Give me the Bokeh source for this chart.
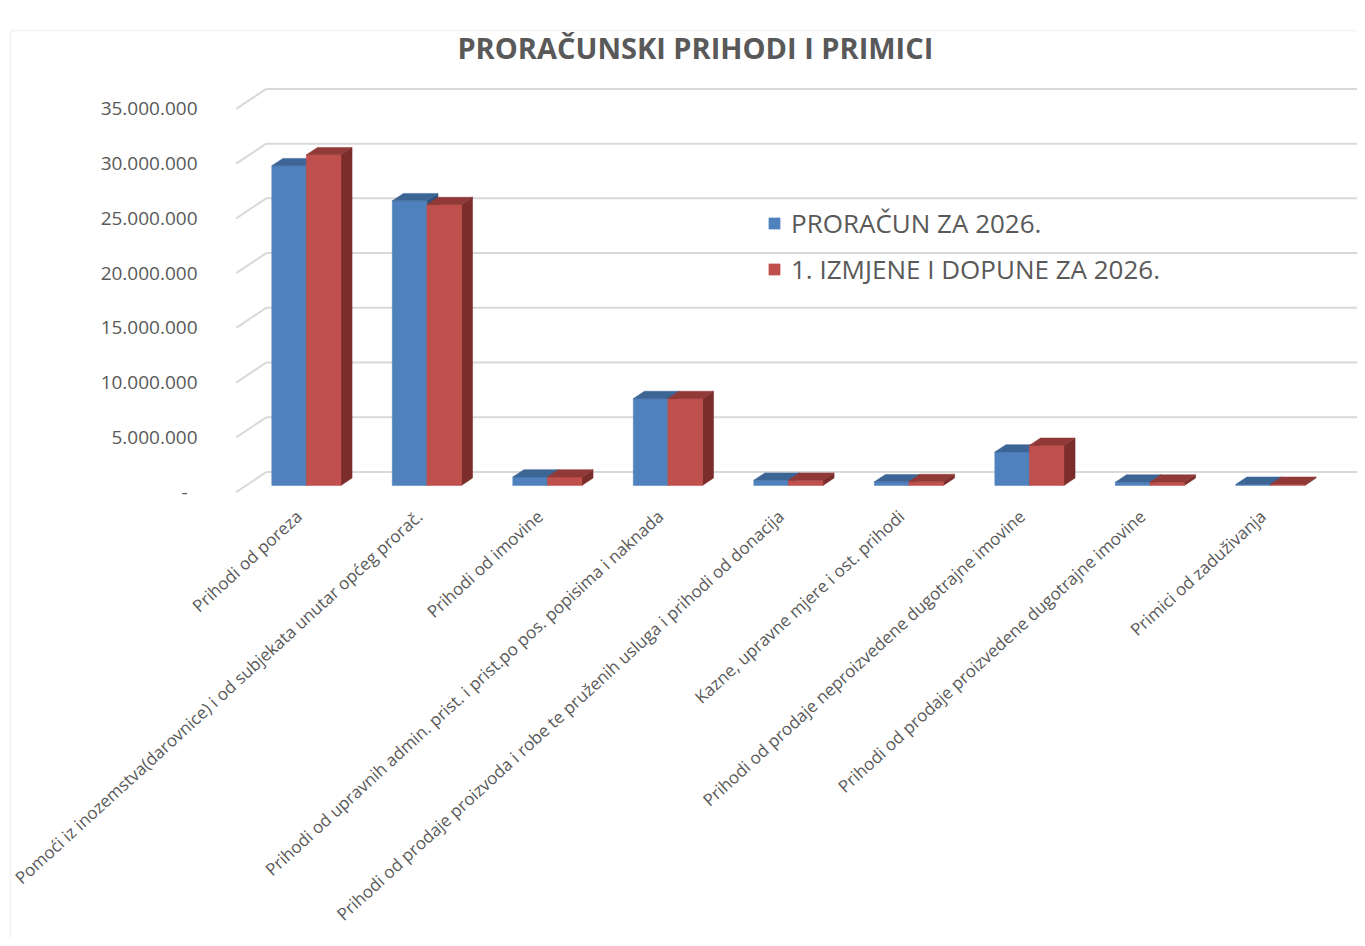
from bokeh.plotting import figure
from bokeh.models import Range1d, Legend, LegendItem, BoxAnnotation, Label
from bokeh.core.properties import value
from bokeh.embed import file_html
from bokeh.resources import INLINE

# ---------------- data ----------------
categories = [
    "Prihodi od poreza",
    "Pomoći iz inozemstva(darovnice) i od subjekata unutar općeg prorač.",
    "Prihodi od imovine",
    "Prihodi od upravnih admin. prist. i prist.po pos. popisima i naknada",
    "Prihodi od prodaje proizvoda i robe te pruženih usluga i prihodi od donacija",
    "Kazne, upravne mjere i ost. prihodi",
    "Prihodi od prodaje neproizvedene dugotrajne imovine",
    "Prihodi od prodaje proizvedene dugotrajne imovine",
    "Primici od zaduživanja",
]
proracun_2026 = [29200000, 26000000, 770000, 7930000, 470000, 330000, 3050000, 300000, 100000]
izmjene_2026 = [30200000, 25650000, 770000, 7930000, 470000, 350000, 3660000, 300000, 100000]
series_names = ["PRORAČUN ZA 2026.", "1. IZMJENE I DOPUNE ZA 2026."]
ytick_values = [0, 5000000, 10000000, 15000000, 20000000, 25000000, 30000000, 35000000]
ytick_labels = ["-\u00a0\u00a0", "5.000.000", "10.000.000", "15.000.000", "20.000.000",
                "25.000.000", "30.000.000", "35.000.000"]
title_text = "PRORAČUNSKI PRIHODI I PRIMICI"

# ---------------- styles ----------------
FONT = "Open Sans"
TXT = "#595959"
GRID = "#D9D9D9"
W, H = 1357, 938
DEPTH_X = 0.249        # 3D depth, x part (category units)
DEPTH_Y = 1826000      # 3D depth, y part (value units)
F0, F1 = 0.33, 0.70    # bar front/back position within the depth
BAR_W = 0.287
X0, X1 = -1.956, 9.305          # plot covers whole canvas
Y0, Y1 = -40780000, 44900000
YLAB_DX = -0.321                # y tick labels left of the wall
XLAB_DX, XLAB_Y = 0.02, -1950000
LAB_ANGLE = 0.74

colors = {
    0: dict(front="#4F81BD", top="#3C6596", side="#2E527E"),
    1: dict(front="#C0504D", top="#903936", side="#7A2D2B"),
}

p = figure(width=W, height=H, output_backend="svg", toolbar_location=None,
           x_range=Range1d(X0, X1), y_range=Range1d(Y0, Y1),
           x_axis_location=None, y_axis_location=None,
           min_border=0, min_border_left=0, min_border_right=0,
           min_border_top=0, min_border_bottom=0)
p.outline_line_color = None
p.background_fill_color = "white"
p.border_fill_color = "white"
p.xgrid.visible = False
p.ygrid.visible = False

# chart border
p.add_layout(BoxAnnotation(left=10, right=W + 50, top=30, bottom=H + 50,
                           left_units="canvas", right_units="canvas",
                           top_units="canvas", bottom_units="canvas",
                           fill_alpha=0, line_color=GRID, line_width=2))

# title
p.add_layout(Label(x=3.81, y=40600000, text=title_text, text_align="center",
                   text_baseline="middle", text_font=FONT, text_font_size="29px",
                   text_font_style="bold", text_color=TXT))

# walls: back gridlines and side-wall diagonals
back_xs, back_ys, side_xs, side_ys = [], [], [], []
for t in ytick_values:
    back_xs.append([0 + DEPTH_X, X1])
    back_ys.append([t + DEPTH_Y, t + DEPTH_Y])
    side_xs.append([0, DEPTH_X])
    side_ys.append([t, t + DEPTH_Y])
p.multi_line(back_xs, back_ys, line_color=GRID, line_width=2)
p.multi_line(side_xs, side_ys, line_color=GRID, line_width=2)

# bars (3D faces)
ox0, oy0 = F0 * DEPTH_X, F0 * DEPTH_Y
ox1, oy1 = F1 * DEPTH_X, F1 * DEPTH_Y
front_renderers = []
for s, vals in enumerate([proracun_2026, izmjene_2026]):
    fx, fy, tx, ty, sx, sy = [], [], [], [], [], []
    for i, v in enumerate(vals):
        xl = i + 0.5 - BAR_W + s * BAR_W
        xr = xl + BAR_W
        fx.append([xl + ox0, xr + ox0, xr + ox0, xl + ox0])
        fy.append([oy0, oy0, v + oy0, v + oy0])
        tx.append([xl + ox0, xr + ox0, xr + ox1, xl + ox1])
        ty.append([v + oy0, v + oy0, v + oy1, v + oy1])
        sx.append([xr + ox0, xr + ox1, xr + ox1, xr + ox0])
        sy.append([oy0, oy1, v + oy1, v + oy0])
    c = colors[s]
    p.patches(sx, sy, fill_color=c["side"], line_color=c["side"], line_width=0.5)
    fr = p.patches(fx, fy, fill_color=c["front"], line_color=c["front"], line_width=0.5)
    p.patches(tx, ty, fill_color=c["top"], line_color=c["top"], line_width=0.5)
    front_renderers.append(fr)

# value axis labels (front plane)
p.text(x=[YLAB_DX] * len(ytick_values), y=ytick_values, text=ytick_labels,
       text_align="right", text_baseline="middle",
       text_font=value(FONT), text_font_size="19px", text_color=TXT)

# category labels
p.text(x=[i + 0.5 + XLAB_DX for i in range(len(categories))],
       y=[XLAB_Y] * len(categories), text=categories, angle=LAB_ANGLE,
       text_align="right", text_baseline="middle",
       text_font=value(FONT), text_font_size="17px", text_color=TXT)

legend = Legend(items=[LegendItem(label=series_names[0], renderers=[front_renderers[0]]),
                       LegendItem(label=series_names[1], renderers=[front_renderers[1]])],
                location=(767, 651), orientation="vertical",
                glyph_width=14, glyph_height=14, label_height=30, label_standoff=10,
                spacing=10, padding=0, margin=0,
                border_line_alpha=0, background_fill_alpha=0,
                label_text_font=FONT, label_text_font_size="26px", label_text_color=TXT)
p.add_layout(legend)

open("out.html", "w").write(file_html(p, INLINE))
